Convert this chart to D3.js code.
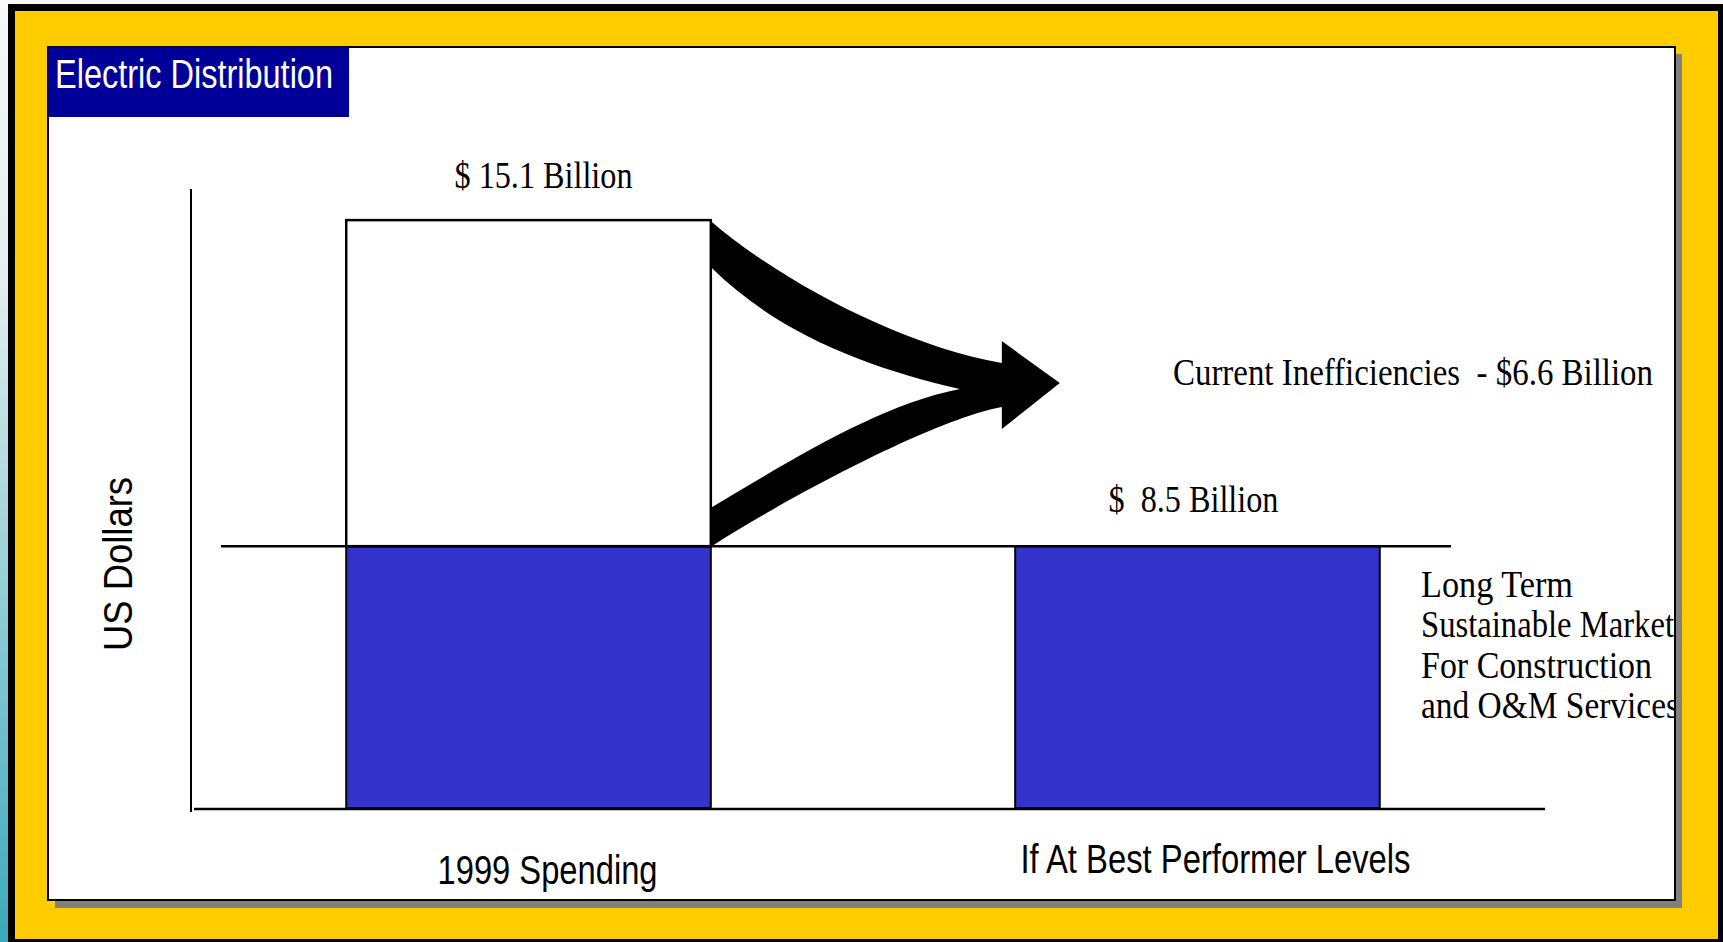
<!DOCTYPE html>
<html>
<head>
<meta charset="utf-8">
<script src="https://cdn.jsdelivr.net/npm/d3@7"></script>
<style>
	body { margin:0; padding:0; overflow:hidden; background:#f4f6f9; }
	.sans { font-family:"Liberation Sans Narrow","Arial Narrow","Liberation Sans",Arial,sans-serif; }
	.serif { font-family:"Liberation Serif","Times New Roman",serif; white-space:pre; }
</style>
</head>
<body>
<div class="visualisation"></div>
<script>
//DATA
var categories    = ["1999 Spending", "If At Best Performer Levels"];
var sustainable   = [8.5, 8.5];   //long term market (blue)
var inefficiency  = [6.6, 0];     //current inefficiencies (white)
var totalLabels   = ["$ 15.1 Billion", "$  8.5 Billion"];
var arrowLabel    = "Current Inefficiencies  - $6.6 Billion";
var marketLines   = ["Long Term", "Sustainable Market", "For Construction", "and O&M Services"];
var titleText     = "Electric Distribution";
var yAxisTitle    = "US Dollars";

//----------------------------------------------------------------------------------------------------------------------------
//CANVAS
//----------------------------------------------------------------------------------------------------------------------------
var W = 1723, H = 942;
var svg = d3.select(".visualisation").append("svg")
	.attr("width", W)
	.attr("height", H);

var defs = svg.append("defs");
var grad = defs.append("linearGradient").attr("id", "bgGrad")
	.attr("x1", 0).attr("y1", 0).attr("x2", 0).attr("y2", 1);
grad.append("stop").attr("offset", "0").attr("stop-color", "#f7f9fb");
grad.append("stop").attr("offset", "0.3").attr("stop-color", "#e3edf1");
grad.append("stop").attr("offset", "1").attr("stop-color", "#3aa9ba");

defs.append("clipPath").attr("id", "panelClip")
	.append("rect").attr("x", 48).attr("y", 47).attr("width", 1627).attr("height", 853);

svg.append("rect").attr("width", W).attr("height", H).attr("fill", "url(#bgGrad)");

//yellow frame with black border
svg.append("rect")
	.attr("x", 11.5).attr("y", 7.5)
	.attr("width", 1710).attr("height", 935)
	.attr("fill", "#ffcc00")
	.attr("stroke", "#000").attr("stroke-width", 7);

//panel shadow + panel
svg.append("rect").attr("x", 55).attr("y", 54).attr("width", 1627).attr("height", 854).attr("fill", "#808080");
svg.append("rect").attr("x", 48).attr("y", 47).attr("width", 1627).attr("height", 853)
	.attr("fill", "#fff").attr("stroke", "#000").attr("stroke-width", 2);

var g = svg.append("g").attr("clip-path", "url(#panelClip)");

//title box
g.append("rect").attr("x", 48).attr("y", 47).attr("width", 301).attr("height", 70).attr("fill", "#000099");
g.append("text").attr("class", "sans")
	.attr("x", 55).attr("y", 88)
	.attr("font-size", 40).attr("fill", "#fff")
	.attr("textLength", 278).attr("lengthAdjust", "spacingAndGlyphs")
	.text(titleText);

//----------------------------------------------------------------------------------------------------------------------------
//SCALES
//----------------------------------------------------------------------------------------------------------------------------
var x = d3.scaleBand().domain(categories).range([179, 1547]).paddingInner(0.455).paddingOuter(0.25);
var y = d3.scaleLinear().domain([3.2, 15.73]).range([808, 189]);

var stack = categories.map(function(c, i){
	return {cat: c, base: sustainable[i], top: sustainable[i] + inefficiency[i], label: totalLabels[i]};
});

//axes (plain lines, no ticks)
g.append("line").attr("x1", 191).attr("x2", 191).attr("y1", y.range()[1]).attr("y2", 812)
	.attr("stroke", "#000").attr("stroke-width", 2);
g.append("line").attr("x1", 194).attr("x2", 1545).attr("y1", 809).attr("y2", 809)
	.attr("stroke", "#000").attr("stroke-width", 2.5);

//blue bars
g.selectAll(".bar-base").data(stack).enter().append("rect")
	.attr("class", "bar-base")
	.attr("x", function(d){ return x(d.cat); })
	.attr("y", function(d){ return y(d.base); })
	.attr("width", x.bandwidth())
	.attr("height", function(d){ return y(y.domain()[0]) - y(d.base); })
	.attr("fill", "#3333cc")
	.attr("stroke", "#000").attr("stroke-width", 2);

//white bars (inefficiency)
g.selectAll(".bar-top").data(stack.filter(function(d){ return d.top > d.base; })).enter().append("rect")
	.attr("class", "bar-top")
	.attr("x", function(d){ return x(d.cat); })
	.attr("y", function(d){ return y(d.top); })
	.attr("width", x.bandwidth())
	.attr("height", function(d){ return y(d.base) - y(d.top); })
	.attr("fill", "#fff")
	.attr("stroke", "#000").attr("stroke-width", 2.5);

//reference line at sustainable level
g.append("line").attr("x1", 221).attr("x2", 1451)
	.attr("y1", y(sustainable[0])).attr("y2", y(sustainable[0]))
	.attr("stroke", "#000").attr("stroke-width", 2.5);

//----------------------------------------------------------------------------------------------------------------------------
//ARROW
//----------------------------------------------------------------------------------------------------------------------------
var bx = x(categories[0]) + x.bandwidth(),
	yT = y(stack[0].top),
	yM = y(stack[0].base);
var p = d3.path();
p.moveTo(bx + 1, yT + 2);
p.bezierCurveTo(bx + 69, yT + 60, bx + 189, yT + 125, bx + 291, yT + 143);
p.lineTo(bx + 291, yT + 121);
p.lineTo(bx + 349, yT + 163);
p.lineTo(bx + 291, yT + 209);
p.lineTo(bx + 291, yT + 187);
p.bezierCurveTo(bx + 229, yT + 198, bx + 89, yT + 270, bx + 1, yM);
p.lineTo(bx + 1, yM - 39);
p.bezierCurveTo(bx + 89, yM - 91, bx + 169, yM - 141, bx + 249, yT + 169);
p.bezierCurveTo(bx + 159, yT + 148, bx + 69, yT + 115, bx + 1, yT + 48);
p.closePath();
g.append("path").attr("d", p.toString()).attr("fill", "#000");

//----------------------------------------------------------------------------------------------------------------------------
//LABELS
//----------------------------------------------------------------------------------------------------------------------------
var totalDx = [15, -4], totalDy = [32, 34], totalW = [178, 170];
g.selectAll(".total").data(stack).enter().append("text")
	.attr("class", "serif total")
	.attr("x", function(d, i){ return x(d.cat) + x.bandwidth() / 2 + totalDx[i]; })
	.attr("y", function(d, i){ return y(d.top) - totalDy[i]; })
	.attr("text-anchor", "middle")
	.attr("font-size", 37)
	.attr("textLength", function(d, i){ return totalW[i]; })
	.attr("lengthAdjust", "spacingAndGlyphs")
	.text(function(d){ return d.label; });

g.append("text").attr("class", "serif")
	.attr("x", 1173).attr("y", 385)
	.attr("font-size", 37)
	.attr("textLength", 480).attr("lengthAdjust", "spacingAndGlyphs")
	.text(arrowLabel);

var lineW = [152, 253, 231, 258];
g.selectAll(".market").data(marketLines).enter().append("text")
	.attr("class", "serif market")
	.attr("x", 1421)
	.attr("y", function(d, i){ return 597 + i * 40.3; })
	.attr("font-size", 37)
	.attr("textLength", function(d, i){ return lineW[i]; })
	.attr("lengthAdjust", "spacingAndGlyphs")
	.text(function(d){ return d; });

var catDx = [19, 18], catY = [884, 873], catW = [220, 390];
g.selectAll(".cat").data(categories).enter().append("text")
	.attr("class", "sans cat")
	.attr("x", function(d, i){ return x(d) + x.bandwidth() / 2 + catDx[i]; })
	.attr("y", function(d, i){ return catY[i]; })
	.attr("text-anchor", "middle")
	.attr("font-size", 40)
	.attr("textLength", function(d, i){ return catW[i]; })
	.attr("lengthAdjust", "spacingAndGlyphs")
	.text(function(d){ return d; });

g.append("text").attr("class", "sans")
	.attr("transform", "translate(132,564) rotate(-90)")
	.attr("text-anchor", "middle")
	.attr("font-size", 40)
	.attr("textLength", 174).attr("lengthAdjust", "spacingAndGlyphs")
	.text(yAxisTitle);
</script>
</body>
</html>
